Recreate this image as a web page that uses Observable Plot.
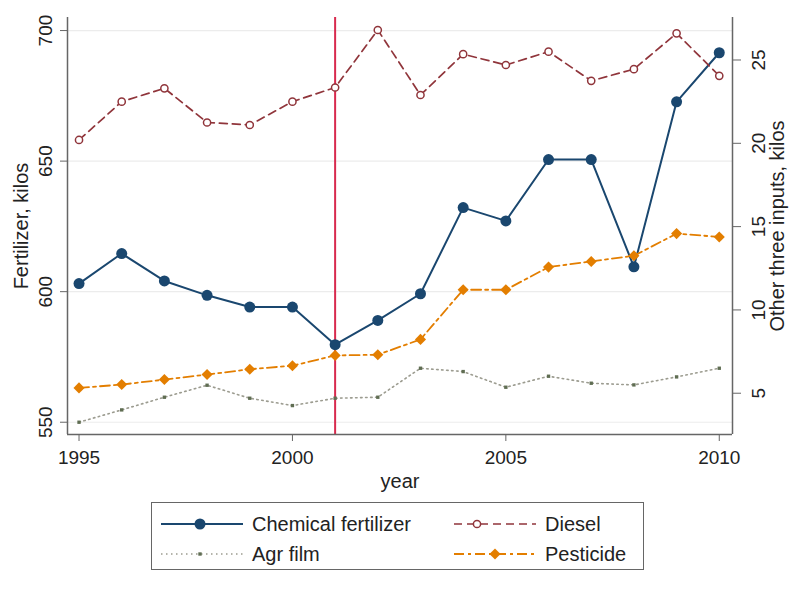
<!DOCTYPE html>
<html>
<head>
<meta charset="utf-8">
<script src="https://cdn.jsdelivr.net/npm/d3@7"></script>
<script src="https://cdn.jsdelivr.net/npm/@observablehq/plot@0.6"></script>
<style>
  body { margin: 0; background: white; font-family: "Liberation Sans", Arial, sans-serif; }
  #chart svg { display: block; }
  #legend {
    position: absolute; left: 151px; top: 502px; width: 491px; height: 66px;
    border: 1.5px solid #666; box-sizing: content-box; background: white;
  }
  .item { position: absolute; display: flex; align-items: center; font-size: 20px; color: #222; height: 30px; }
  .item svg { display: block; margin-right: 9px; }
</style>
</head>
<body>
<div id="chart"></div>
<div id="legend"></div>
<script>
const years = [1995, 1996, 1997, 1998, 1999, 2000, 2001, 2002, 2003, 2004, 2005, 2006, 2007, 2008, 2009, 2010];
const fertilizer = [603.1, 614.6, 604.1, 598.6, 594.1, 594.1, 579.7, 589.0, 599.2, 632.2, 627.1, 650.6, 650.6, 609.5, 672.7, 691.5];
const diesel = [20.2, 22.5, 23.3, 21.25, 21.1, 22.5, 23.35, 26.8, 22.9, 25.35, 24.7, 25.5, 23.75, 24.45, 26.6, 24.05];
const agrFilm = [3.26, 4.0, 4.76, 5.48, 4.70, 4.26, 4.70, 4.76, 6.5, 6.3, 5.36, 6.02, 5.6, 5.5, 5.98, 6.5];
const pesticide = [5.32, 5.52, 5.82, 6.12, 6.44, 6.65, 7.27, 7.31, 8.23, 11.21, 11.21, 12.57, 12.91, 13.25, 14.58, 14.38];

const xTicks = [1995, 2000, 2005, 2010];
const leftTicks = [550, 600, 650, 700];
const rightTicks = [5, 10, 15, 20, 25];
const eventYear = [2001];
const seriesNames = ["Chemical fertilizer", "Diesel", "Agr film", "Pesticide"];

const xDomain = [1994.73, 2010.31];
const yDomain = [545.3, 705];
// right axis (other three inputs) mapped onto the left scale
const toLeft = r => 529.2 + 6.381 * r;
const fromLeft = l => (l - 529.2) / 6.381;

const rows = years.map((year, i) => ({
  year,
  fert: fertilizer[i],
  diesel: toLeft(diesel[i]),
  agr: toLeft(agrFilm[i]),
  pest: toLeft(pesticide[i])
}));

const C = { fert: "#1a476f", diesel: "#90353b", agrLine: "#9c9c90", agrDot: "#5f6d52", pest: "#e37e00", event: "#d82a4e", axis: "#666" };

const plot = Plot.plot({
  width: 795,
  height: 495,
  marginLeft: 67, marginRight: 63, marginTop: 17, marginBottom: 61,
  style: { fontFamily: "Liberation Sans, Arial, sans-serif", fontSize: "19px", color: "#222", background: "white", overflow: "visible" },
  x: { domain: xDomain },
  y: { domain: yDomain },
  marks: [
    Plot.gridY(leftTicks, { stroke: "#ececec", strokeOpacity: 1, strokeWidth: 1.2 }),
    Plot.ruleX(eventYear, { stroke: C.event, strokeWidth: 2 }),
    Plot.line(rows, { x: "year", y: "fert", stroke: C.fert, strokeWidth: 2 }),
    Plot.dot(rows, { x: "year", y: "fert", fill: C.fert, r: 5.5, stroke: null }),
    Plot.line(rows, { x: "year", y: "diesel", stroke: C.diesel, strokeWidth: 1.7, strokeDasharray: "8,5" }),
    Plot.dot(rows, { x: "year", y: "diesel", fill: "white", stroke: C.diesel, strokeWidth: 1.5, r: 3.6 }),
    Plot.line(rows, { x: "year", y: "agr", stroke: C.agrLine, strokeWidth: 1.6, strokeDasharray: "1.5,3.5" }),
    Plot.dot(rows, { x: "year", y: "agr", symbol: "square", fill: C.agrDot, r: 1.9, stroke: null }),
    Plot.line(rows, { x: "year", y: "pest", stroke: C.pest, strokeWidth: 1.8, strokeDasharray: "10,4,3,4" }),
    Plot.dot(rows, { x: "year", y: "pest", symbol: "diamond2", fill: C.pest, r: 5, stroke: null }),
    // axis lines
    Plot.ruleX([xDomain[0], xDomain[1]], { stroke: C.axis, strokeWidth: 1.5 }),
    Plot.ruleY([yDomain[0]], { stroke: C.axis, strokeWidth: 1.5 }),
    // axes
    Plot.axisX(xTicks, { tickSize: 7, tickPadding: 9, tickFormat: d => String(d), label: null, stroke: C.axis, fontSize: 19 }),
    Plot.axisY(leftTicks, { anchor: "left", tickSize: 7, tickRotate: -90, tickPadding: 9, label: null, stroke: C.axis, fontSize: 19 }),
    Plot.axisY(rightTicks.map(toLeft), { anchor: "right", tickSize: 8, tickRotate: -90, tickPadding: 24, label: null, stroke: C.axis, fontSize: 19, tickFormat: d => String(Math.round(fromLeft(d))) }),
    // axis titles
    Plot.text(["Fertilizer, kilos"], { frameAnchor: "left", textAnchor: "middle", rotate: -90, dx: -46, fontSize: 20, fill: "#222" }),
    Plot.text(["Other three inputs, kilos"], { frameAnchor: "right", textAnchor: "middle", rotate: -90, dx: 45, fontSize: 20, fill: "#222" }),
    Plot.text(["year"], { frameAnchor: "bottom", dy: 53, fontSize: 20, fill: "#222" })
  ]
});
document.getElementById("chart").appendChild(plot);

// Legend
const legend = d3.select("#legend");
const items = [
  { name: seriesNames[0], left: 9, top: 6, stroke: C.fert, dash: null, sw: 2, sym: "circle", fill: C.fert, mstroke: null, msize: 5.5, mx: 39 },
  { name: seriesNames[1], left: 302, top: 6, stroke: C.diesel, dash: "8,5", sw: 1.7, sym: "circle", fill: "white", mstroke: C.diesel, msize: 3.6, mx: 23 },
  { name: seriesNames[2], left: 9, top: 36, stroke: C.agrLine, dash: "1.5,3.5", sw: 1.6, sym: "square", fill: C.agrDot, mstroke: null, msize: 1.9, mx: 39 },
  { name: seriesNames[3], left: 302, top: 36, stroke: C.pest, dash: "10,4,3,4", sw: 1.8, sym: "diamond", fill: C.pest, mstroke: null, msize: 5, mx: 41 }
];
for (const it of items) {
  const div = legend.append("div").attr("class", "item").style("left", it.left + "px").style("top", it.top + "px");
  const svg = div.append("svg").attr("width", 82).attr("height", 20);
  svg.append("line").attr("x1", 0).attr("x2", 82).attr("y1", 10).attr("y2", 10)
    .attr("stroke", it.stroke).attr("stroke-width", it.sw).attr("stroke-dasharray", it.dash);
  let m;
  if (it.sym === "circle") {
    m = svg.append("circle").attr("cx", it.mx).attr("cy", 10).attr("r", it.msize);
  } else if (it.sym === "square") {
    const s = it.msize * 1.77;
    m = svg.append("rect").attr("x", it.mx - s / 2).attr("y", 10 - s / 2).attr("width", s).attr("height", s);
  } else {
    const h = it.msize * 1.11;
    m = svg.append("path").attr("d", `M${it.mx},${10 - h}L${it.mx + h},10L${it.mx},${10 + h}L${it.mx - h},10Z`);
  }
  m.attr("fill", it.fill).attr("stroke", it.mstroke).attr("stroke-width", it.mstroke ? 1.5 : null);
  div.append("span").text(it.name);
}
</script>
</body>
</html>
